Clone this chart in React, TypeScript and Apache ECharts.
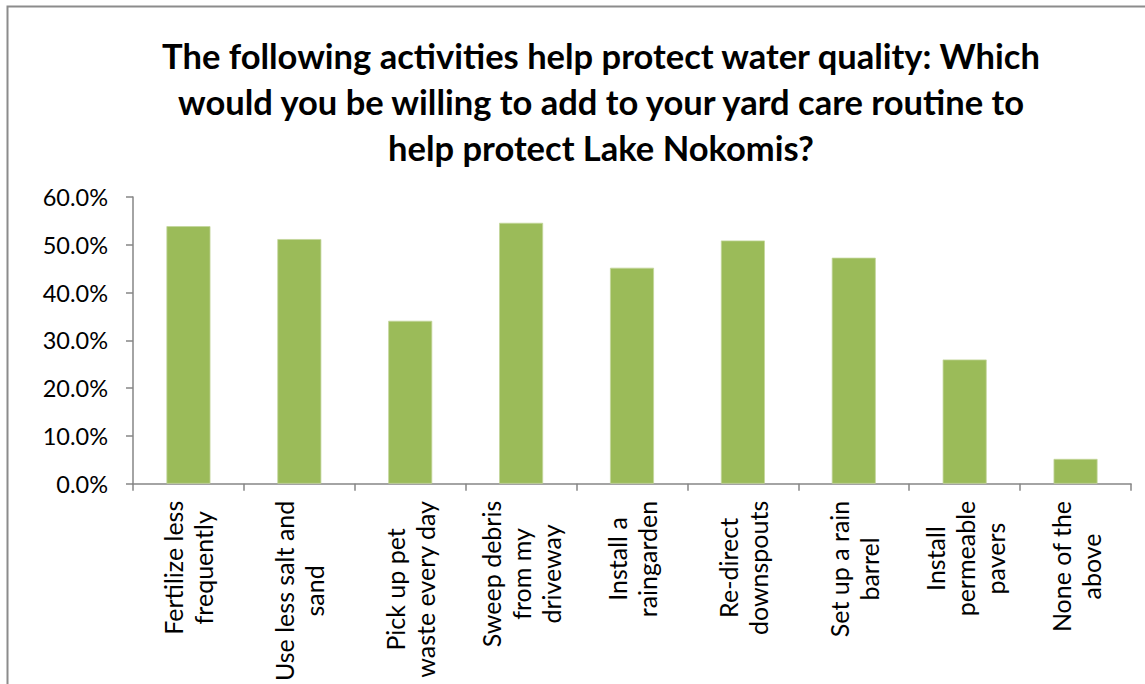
import React, { useEffect, useRef } from "react";
import * as echarts from "echarts";

const categories = [
  "Fertilize less\nfrequently",
  "Use less salt and\nsand",
  "Pick up pet\nwaste every day",
  "Sweep debris\nfrom my\ndriveway",
  "Install a\nraingarden",
  "Re-direct\ndownspouts",
  "Set up a rain\nbarrel",
  "Install\npermeable\npavers",
  "None of the\nabove",
];
const values = [53.9, 51.2, 34.1, 54.6, 45.2, 50.9, 47.3, 26.0, 5.2];
const yTicks = { min: 0, max: 60, interval: 10 };
const titleText =
  "The following activities help protect water quality: Which\nwould you be willing to add to your yard care routine to\nhelp protect Lake Nokomis?";

export default function App() {
  const ref = useRef<HTMLDivElement>(null);
  useEffect(() => {
    const chart = echarts.init(ref.current!, undefined, { renderer: "svg" });
    const font = "Lato, 'Open Sans', sans-serif";
    chart.setOption({
      animation: false,
      backgroundColor: "#ffffff",
      title: {
        text: titleText,
        left: 596,
        top: 27,
        textAlign: "center",
        textStyle: {
          fontFamily: font,
          fontWeight: "bold",
          fontSize: 34.5,
          lineHeight: 46,
          color: "#000000",
        },
      },
      graphic: [
        {
          type: "rect",
          shape: { x: 7.5, y: 6.5, width: 1200, height: 800 },
          style: { fill: "none", stroke: "#8c8c8c", lineWidth: 2 },
          silent: true,
          z: 100,
        },
      ],
      grid: { left: 133, right: 14, top: 197, bottom: 199, containLabel: false },
      xAxis: {
        type: "category",
        data: categories,
        axisLine: { lineStyle: { color: "#868686", width: 1.5 } },
        axisTick: { show: true, length: 7, alignWithLabel: false, lineStyle: { color: "#868686", width: 1.5 } },
        axisLabel: {
          interval: 0,
          rotate: 90,
          margin: 17,
          color: "#000000",
          fontFamily: font,
          fontSize: 25,
          lineHeight: 30,
          formatter: (v: string) =>
            v
              .split("\n")
              .map((s) => "{c|" + s + "}")
              .join("\n"),
          rich: {
            c: { align: "center", fontFamily: font, fontSize: 25, lineHeight: 30, color: "#000000" },
          },
        },
      },
      yAxis: {
        type: "value",
        min: yTicks.min,
        max: yTicks.max,
        interval: yTicks.interval,
        splitLine: { show: false },
        axisLine: { show: true, lineStyle: { color: "#868686", width: 1.5 } },
        axisTick: { show: true, length: 7, lineStyle: { color: "#868686", width: 1.5 } },
        axisLabel: {
          margin: 25,
          color: "#000000",
          fontFamily: font,
          fontSize: 23.5,
          formatter: (v: number) => v.toFixed(1) + "%",
        },
      },
      series: [
        {
          type: "bar",
          data: values,
          barWidth: 44,
          itemStyle: { color: "#9bbb59", borderColor: "#c3d69b", borderWidth: 0.8 },
        },
      ],
    });
    return () => chart.dispose();
  }, []);
  return (
    <div
      ref={ref}
      style={{ position: "absolute", left: 0, top: 0, width: 1145, height: 684 }}
    />
  );
}
